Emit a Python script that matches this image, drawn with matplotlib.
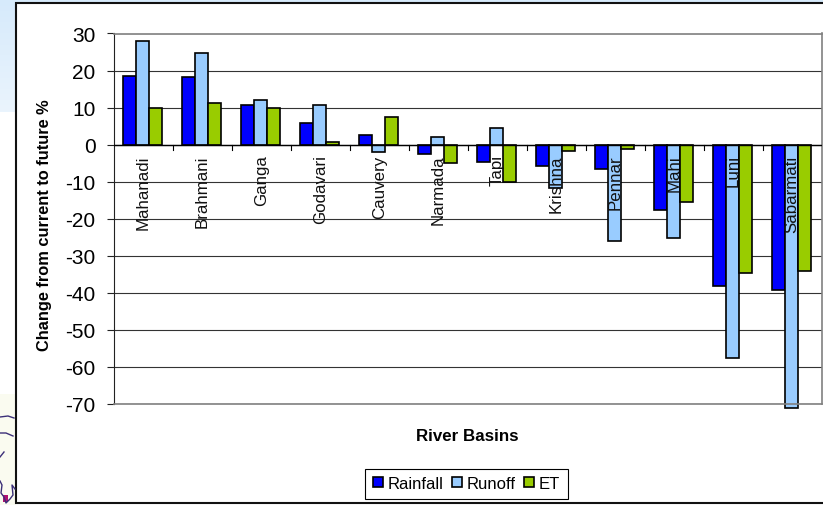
import matplotlib
matplotlib.use('Agg')
import matplotlib.pyplot as plt
from matplotlib.patches import Rectangle
import numpy as np

plt.rcParams['font.family'] = ['Liberation Sans', 'DejaVu Sans']
plt.rcParams['axes.unicode_minus'] = False

basins = ['Mahanadi', 'Brahmani', 'Ganga', 'Godavari', 'Cauvery', 'Narmada',
          'Tapi', 'Krishna', 'Pennar', 'Mahi', 'Luni', 'Sabarmati']
rainfall = [18.5, 18.2, 10.8, 5.8, 2.5, -2.5, -4.8, -5.8, -6.5, -17.7, -38.2, -39.3]
runoff = [28, 24.7, 12, 10.8, -2, 2, 4.5, -11.8, -26, -25.2, -57.5, -71]
et = [9.8, 11.2, 9.8, 0.8, 7.5, -5, -10, -1.8, -1.2, -15.5, -34.7, -34]
yticks = list(range(-70, 31, 10))

W, H = 823, 506
fig = plt.figure(figsize=(W / 100, H / 100), dpi=100)

# slide background behind the chart
bg = fig.add_axes([0, 0, 1, 1], zorder=0)
bg.axis('off')
grad = np.linspace(0, 1, 64).reshape(-1, 1)
bg.imshow(grad, extent=(0, W, 113, 0), aspect='auto', cmap=matplotlib.colors.LinearSegmentedColormap.from_list(
    'slide', ['#d6eafb', '#eaf4fd']))
bg.add_patch(Rectangle((0, 113), 16, H - 113, fc='white', ec='none'))
bg.add_patch(Rectangle((0, 395), 16, H - 395, fc='#fafbf0', ec='none'))
# bit of the map that sticks out on the left
bg.plot([0, 8, 14], [418, 417, 419], color='#3b2f78', lw=1)
bg.plot([0, 6, 13], [434, 434, 437], color='#3b2f78', lw=1)
bg.plot([0, 4], [458, 453], color='#3b2f78', lw=1)
bg.plot([0, 2, 1, 4, 6, 10, 13, 12, 15], [482, 486, 494, 498, 504, 500, 496, 486, 490], color='#3b2f78', lw=1)
bg.add_patch(Rectangle((3, 496), 5, 7, fc='#b01070', ec='none'))
bg.set_xlim(0, W)
bg.set_ylim(H, 0)
bg.add_patch(Rectangle((16, 4), W - 14, 500, fc='white', ec='#111111', lw=1.5))

ax = fig.add_axes([113.7 / W, 1 - 405 / H, 708 / W, 370.5 / H], zorder=1)
ax.patch.set_alpha(0)
x = np.arange(len(basins)) - 0.012
w = 13 / 59
for off, vals, col, name in [(-w, rainfall, '#0000ff', 'Rainfall'),
                             (0, runoff, '#99ccff', 'Runoff'),
                             (w, et, '#99cc00', 'ET')]:
    ax.bar(x + off, vals, w, color=col, edgecolor='black', linewidth=1.2,
           label=name, zorder=2, clip_on=False)

ax.set_xlim(-0.5, 11.5)
ax.set_ylim(-70, 30)
ax.set_yticks(yticks)
ax.tick_params(axis='y', labelsize=15, length=5, width=0.8, pad=8, color='#222222')
ax.yaxis.grid(True, color='#333333', lw=0.8, zorder=1)
ax.set_axisbelow(True)

for s in ['top', 'right', 'bottom']:
    ax.spines[s].set_color('#808080')
    ax.spines[s].set_linewidth(1.2)
ax.spines['left'].set_color('#222222')
ax.spines['left'].set_linewidth(0.8)

# category axis crosses at zero, with labels sitting over the bars
ax.set_xticks([])
ax.plot([-0.5, 11.5], [0, 0], color='black', lw=1, zorder=3)
for t in np.arange(0.5, 11.5):
    ax.plot([t, t], [0, -1.4], color='black', lw=0.8, zorder=3)
for i, name in enumerate(basins):
    ax.text(i, -2.6, name, rotation=90, ha='center', va='top', fontsize=12.2,
            color='#111111', zorder=4)

fig.text(44.5 / W, 1 - 225 / H, 'Change from current to future %', rotation=90,
         ha='center', va='center', fontsize=11.8, fontweight='bold', zorder=5)
fig.text(467.5 / W, 1 - 437 / H, 'River Basins', ha='center', va='center',
         fontsize=12.2, fontweight='bold', zorder=5)

leg = ax.legend(loc='center', bbox_to_anchor=(466.5 / W, 1 - 484.5 / H),
                bbox_transform=fig.transFigure, ncol=3, fontsize=12, frameon=True,
                fancybox=False, edgecolor='black', framealpha=1, handlelength=0.6,
                handleheight=0.6, handletextpad=0.3, columnspacing=0.48,
                borderpad=0.45, borderaxespad=0)
leg.get_frame().set_linewidth(0.8)

fig.savefig('out.png', dpi=100)
